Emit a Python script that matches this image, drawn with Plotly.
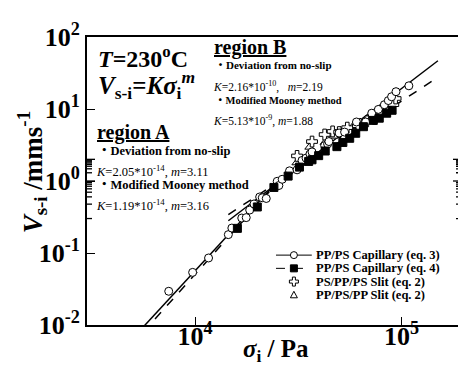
import math
import plotly.graph_objects as go

# ---------------- data ----------------
# PP/PS Capillary (eq. 3) - open circles
circ_sigma = [7460, 9740, 11630, 14500, 15080, 16840, 17700, 18400, 19300, 20560,
              21170, 22130, 25000, 25470, 26420, 28680, 31200, 32980, 34480, 36000,
              36860, 42430, 43870, 44500, 49840, 53000, 60490, 67000, 71720, 77220,
              82560, 86280, 89480, 94000, 108500]
circ_v = [0.0294, 0.0538, 0.0853, 0.180, 0.222, 0.306, 0.31, 0.395, 0.48, 0.60,
          0.585, 0.572, 0.99, 0.865, 1.056, 1.385, 1.43, 1.93, 2.08, 2.37,
          2.535, 3.1, 3.27, 3.53, 4.64, 4.78, 6.6, 6.6, 8.74, 9.87,
          11.47, 13.1, 14.8, 17.4, 21.0]

# PP/PS Capillary (eq. 4) - filled squares
sq_sigma = [16040, 20030, 24100, 28240, 32040, 35500, 36860, 39690, 42700, 48640,
            51980, 56100, 60000, 65380, 73000, 78000, 84700, 90000]
sq_v = [0.22, 0.436, 0.814, 1.17, 1.56, 1.87, 1.97, 2.25, 2.61, 3.0,
        3.43, 3.92, 4.6, 5.68, 6.95, 7.45, 8.74, 9.6]

# PS/PP/PS Slit (eq. 2) - open crosses
cross_sigma = [31200, 36860, 42430, 46370, 49900, 54600, 61500, 67900, 73900, 78700,
               86300, 91200, 93600]
cross_v = [2.23, 3.53, 4.42, 4.88, 4.78, 5.51, 5.85, 6.74, 7.29, 9.12,
           9.4, 11.47, 14.0]

# PP/PS/PP Slit (eq. 2) - open triangles
tri_sigma = [31000, 35800, 42430, 47000, 52000, 58000, 63000, 70000, 76000, 82000, 88000]
tri_v = [1.79, 2.95, 3.43, 4.2, 5.0, 5.7, 6.6, 7.9, 9.0, 10.5, 12.5]

# fit lines (end points)
fitA_sigma = [5600, 24000]
fitA_solid_v = [0.0093, 0.86]     # K=2.05e-14, m=3.11
fitA_dash_v = [0.0079, 0.827]     # K=1.19e-14, m=3.16
fitB_sigma = [14500, 150000]
fitB_solid_v = [0.2805, 46.8]     # K=2.16e-10, m=2.19
fitB_dash_v = [0.3415, 27.6]      # K=5.13e-9,  m=1.88

legend_labels = ["PP/PS Capillary (eq. 3)", "PP/PS Capillary (eq. 4)",
                 "PS/PP/PS Slit (eq. 2)", "PP/PS/PP Slit (eq. 2)"]

x_tickvals = [1e4, 1e5]
x_ticktext = ["<b>10<sup>4</sup></b>", "<b>10<sup>5</sup></b>"]
y_tickvals = [0.01, 0.1, 1, 10, 100]
y_ticktext = ["<b>10<sup>-2</sup></b>", "<b>10<sup>-1</sup></b>", "<b>10<sup>0</sup></b>",
              "<b>10<sup>1</sup></b>", "<b>10<sup>2</sup></b>"]
x_minor = [4000, 5000, 6000, 7000, 8000, 9000,
           20000, 30000, 40000, 50000, 60000, 70000, 80000, 90000]
y_minor = [d * k for d in (0.01, 0.1, 1, 10) for k in range(2, 10)]

# ---------------- figure ----------------
FONT = "Liberation Serif, Times New Roman, Noto Sans CJK JP, serif"
# the page body has an 8px default margin; margins compensate so that the
# plot area sits at window pixels x 87..463, y 20..325
W, H = 466, 382
L, R, T, B = 79, 11, 12, 65
PW, PH = W - L - R, H - T - B
PX0, PY1 = 87, 325
MAJ, MIN = 8, 5
XR = [3.4771, 5.2878]
YR = [-2, 2]

def px(x):
    return (x - PX0) / PW

def py(y):
    return (PY1 - y) / PH

fig = go.Figure()

line_style = dict(color="black", width=1.5)
fig.add_trace(go.Scatter(x=fitA_sigma, y=fitA_solid_v, mode="lines", line=line_style, showlegend=False))
fig.add_trace(go.Scatter(x=fitA_sigma, y=fitA_dash_v, mode="lines",
                         line=dict(color="black", width=1.5, dash="dash"), showlegend=False))
fig.add_trace(go.Scatter(x=fitB_sigma, y=fitB_solid_v, mode="lines", line=line_style, showlegend=False))
fig.add_trace(go.Scatter(x=fitB_sigma, y=fitB_dash_v, mode="lines",
                         line=dict(color="black", width=1.5, dash="dash"), showlegend=False))

fig.add_trace(go.Scatter(x=tri_sigma, y=tri_v, mode="markers", showlegend=False,
                         marker=dict(symbol="triangle-up", size=8, color="white",
                                     line=dict(color="black", width=1))))
fig.add_trace(go.Scatter(x=cross_sigma, y=cross_v, mode="markers", showlegend=False,
                         marker=dict(symbol="cross", size=9, color="white",
                                     line=dict(color="black", width=1))))
fig.add_trace(go.Scatter(x=circ_sigma, y=circ_v, mode="markers", showlegend=False,
                         marker=dict(symbol="circle", size=8, color="white",
                                     line=dict(color="black", width=1))))
fig.add_trace(go.Scatter(x=sq_sigma, y=sq_v, mode="markers", showlegend=False,
                         marker=dict(symbol="square", size=8, color="black",
                                     line=dict(color="black", width=1))))

shapes = []
# ---- axis ticks (inside, on all four sides) placed through the axis scales ----
for v, ln in [(v, MAJ) for v in x_tickvals] + [(v, MIN) for v in x_minor]:
    lv = math.log10(v)
    for anc, sgn in ((0, 1), (1, -1)):
        shapes.append(dict(type="line", xref="x", yref="paper", x0=lv, x1=lv,
                           ysizemode="pixel", yanchor=anc, y0=0, y1=sgn * ln,
                           line=dict(color="black", width=1.3)))
for v, ln in [(v, MAJ) for v in y_tickvals] + [(v, MIN) for v in y_minor]:
    lv = math.log10(v)
    for anc, sgn in ((0, 1), (1, -1)):
        shapes.append(dict(type="line", yref="y", xref="paper", y0=lv, y1=lv,
                           xsizemode="pixel", xanchor=anc, x0=0, x1=sgn * ln,
                           line=dict(color="black", width=1.3)))

# ---- hand-made legend (layout shapes + annotations) ----
leg_rows_px = [251, 265, 279, 293]
for i, ypx in enumerate(leg_rows_px[:2]):
    shapes.append(dict(type="line", xref="paper", yref="paper", x0=px(277), x1=px(313),
                       y0=py(ypx), y1=py(ypx),
                       line=dict(color="black", width=1, dash="solid" if i == 0 else "dash")))

def pix_shape(kind, xc, yc, **kw):
    d = dict(type=kind, xref="paper", yref="paper", xsizemode="pixel", ysizemode="pixel",
             xanchor=px(xc), yanchor=py(yc))
    d.update(kw)
    shapes.append(d)

pix_shape("circle", 295, leg_rows_px[0], x0=-3.5, x1=3.5, y0=-3.5, y1=3.5,
          fillcolor="white", line=dict(color="black", width=1))
pix_shape("rect", 295, leg_rows_px[1], x0=-3.5, x1=3.5, y0=-3.5, y1=3.5,
          fillcolor="black", line=dict(color="black", width=1))
pix_shape("path", 295, leg_rows_px[2],
          path="M-1.5,-4.5 L1.5,-4.5 L1.5,-1.5 L4.5,-1.5 L4.5,1.5 L1.5,1.5 L1.5,4.5 L-1.5,4.5 "
               "L-1.5,1.5 L-4.5,1.5 L-4.5,-1.5 L-1.5,-1.5 Z",
          fillcolor="white", line=dict(color="black", width=1))
pix_shape("path", 295, leg_rows_px[3], path="M-3.5,-3 L3.5,-3 L0,3.5 Z",
          fillcolor="white", line=dict(color="black", width=1))

annotations = []
for lab, ypx in zip(legend_labels, leg_rows_px):
    annotations.append(dict(x=px(315), y=py(ypx), xref="paper", yref="paper", text="<b>%s</b>" % lab,
                            showarrow=False, xanchor="left", yanchor="middle",
                            font=dict(family=FONT, size=12.5, color="black")))

def ann(text, x, y, size, anchor="left", angle=0):
    annotations.append(dict(x=px(x), y=py(y), xref="paper", yref="paper", text=text,
                            showarrow=False, xanchor=anchor, yanchor="middle", textangle=angle,
                            font=dict(family=FONT, size=size, color="black")))

ann("<b><i>T</i>=230<sup>o</sup>C</b>", 96, 41, 24)
ann("<b><i>V</i><sub>s-i</sub>=<i>K</i><i>σ</i><sub>i</sub><sup><i>m</i></sup></b>", 96, 71, 25)
ann("<b><u>region B</u></b>", 213, 31, 20)
ann("<b>・Deviation from no-slip</b>", 214, 50, 11)
ann("<i>K</i>=2.16*10<sup>-10</sup>,   <i>m</i>=2.19", 212, 72, 11.5)
ann("<b>・Modified Mooney method</b>", 214, 87, 10.5)
ann("<i>K</i>=5.13*10<sup>-9</sup>, <i>m</i>=1.88", 212, 108, 11.5)
ann("<b><u>region A</u></b>", 95, 121, 20)
ann("<b>・Deviation from no-slip</b>", 96, 141, 12.5)
ann("<i>K</i>=2.05*10<sup>-14</sup>, <i>m</i>=3.11", 94, 162, 12.5)
ann("<b>・Modified Mooney method</b>", 96, 177, 12.5)
ann("<i>K</i>=1.19*10<sup>-14</sup>, <i>m</i>=3.16", 94, 198, 12.5)
# axis titles
ann("<b><i>V</i><sub>s-i</sub> /mms<sup>-1</sup></b>", 32, 163, 27, anchor="center", angle=-90)
ann("<b><i>σ</i><sub>i</sub> / Pa</b>", 277, 352, 25, anchor="center")

axis_common = dict(showgrid=False, zeroline=False, showline=True, linecolor="black", linewidth=2,
                   mirror=True, ticks="inside", ticklen=MAJ, tickwidth=1.3, tickcolor="black",
                   ticklabeloverflow="allow",
                   tickfont=dict(family=FONT, size=26, color="black"))

fig.update_layout(
    width=W, height=H, margin=dict(l=L, r=R, t=T, b=B),
    paper_bgcolor="white", plot_bgcolor="white", showlegend=False,
    xaxis=dict(type="log", range=XR, tickmode="array", tickvals=x_tickvals,
               ticktext=x_ticktext, ticklabelstandoff=-13, **axis_common),
    yaxis=dict(type="log", range=YR, tickmode="array", tickvals=y_tickvals,
               ticktext=y_ticktext, **axis_common),
    annotations=annotations,
    shapes=shapes,
)

fig.write_html("out.html")
